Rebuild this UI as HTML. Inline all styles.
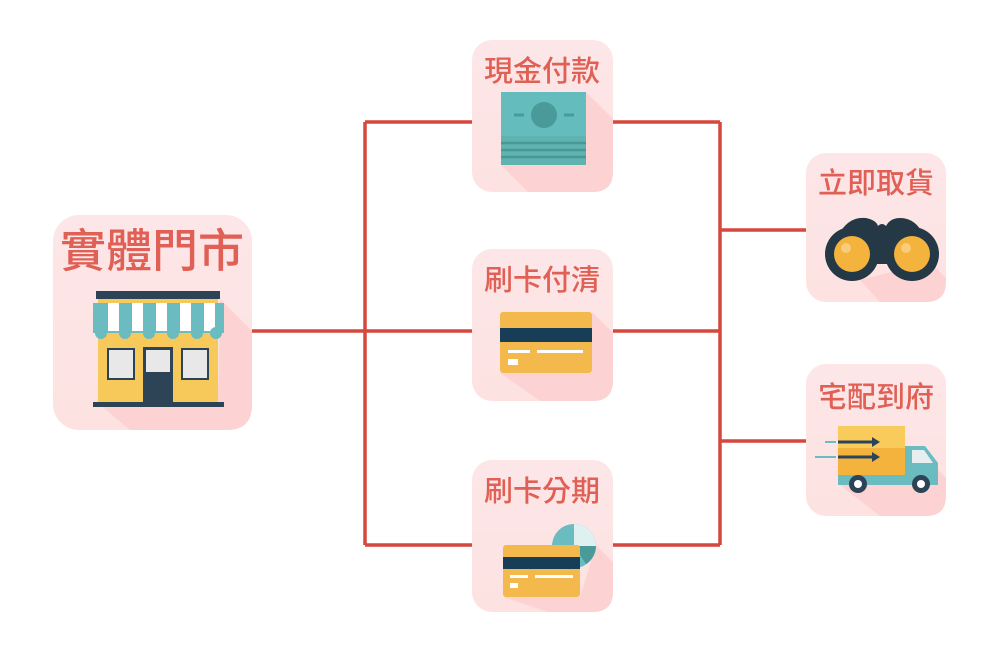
<!DOCTYPE html>
<html><head><meta charset="utf-8"><style>
html,body{margin:0;padding:0;background:#fff}
svg{display:block}
text{font-family:"Liberation Sans","Noto Sans CJK TC",sans-serif;fill:#e06055;font-weight:500}
</style></head><body>
<svg width="1000" height="667" viewBox="0 0 1000 667" xmlns="http://www.w3.org/2000/svg">
<defs>
<linearGradient id="g" x1="0" y1="0" x2="0" y2="1">
<stop offset="0" stop-color="#fde6e8"/><stop offset="1" stop-color="#fde2e1"/>
</linearGradient>
</defs>
<g stroke="#d6473c" stroke-width="3.5" fill="none">
<path d="M252 331H365M365 122V545M365 122H472M365 331H472M365 545H472"/>
<path d="M613 122H720M613 331H720M613 545H720M720 122V545M720 230H806M720 441H806"/>
</g>
<g fill="url(#g)">
<rect x="53" y="215" width="199" height="215" rx="26"/>
<rect x="472" y="40" width="141" height="152" rx="20"/>
<rect x="472" y="249" width="141" height="152" rx="20"/>
<rect x="472" y="460" width="141" height="152" rx="20"/>
<rect x="806" y="153" width="140" height="149" rx="20"/>
<rect x="806" y="364" width="140" height="152" rx="20"/>
</g>
<g fill="#fcd3d2">
<path d="M220 299L252 331V405Q252 430 227 430H130L98 403H218Z"/>
<path d="M586 92L613 119V172Q613 192 593 192H528L501 165H586Z"/>
<path d="M592 312L613 333V381Q613 401 593 401H540L500 373H592Z"/>
<path d="M596 545L613 562V592Q613 612 593 612H548L503 597H580Z"/>
<path d="M930 262L946 278V282Q946 302 926 302H880L860 280Z"/>
<path d="M938 470L946 478V496Q946 516 926 516H880L840 485Z"/>
</g>
<text x="152" y="267" font-size="46" text-anchor="middle">實體門市</text>
<text x="542" y="81" font-size="29" text-anchor="middle">現金付款</text>
<text x="542" y="290" font-size="29" text-anchor="middle">刷卡付清</text>
<text x="542" y="501" font-size="29" text-anchor="middle">刷卡分期</text>
<text x="876" y="193" font-size="29" text-anchor="middle">立即取貨</text>
<text x="876" y="407" font-size="29" text-anchor="middle">宅配到府</text>
<rect x="96" y="291" width="124" height="8" fill="#2d4456"/>
<rect x="98" y="299" width="120" height="5" fill="#f7c85a"/>
<rect x="98" y="330" width="120" height="73" fill="#f7c85a"/>
<rect x="93" y="303" width="131" height="30" fill="#6bbcc0"/>
<g fill="#fff">
<rect x="108" y="303" width="11" height="28"/><rect x="132" y="303" width="11" height="28"/><rect x="156" y="303" width="11" height="28"/><rect x="180" y="303" width="11" height="28"/><rect x="204" y="303" width="11" height="28"/>
</g>
<g fill="#6bbcc0"><circle cx="101" cy="333" r="6"/><circle cx="125" cy="333" r="6"/><circle cx="149" cy="333" r="6"/><circle cx="173" cy="333" r="6"/><circle cx="197" cy="333" r="6"/><circle cx="216" cy="333" r="6"/></g>
<g fill="#e8e8e8" stroke="#2d4456" stroke-width="2">
<rect x="108" y="349" width="26" height="30"/><rect x="182" y="349" width="26" height="30"/>
<rect x="144" y="348" width="28" height="55" fill="#2d4456"/>
</g>
<rect x="146" y="350" width="24" height="22" fill="#e8e8e8"/>
<rect x="93" y="402" width="131" height="5" fill="#2d4456"/>
<rect x="501" y="132" width="85" height="33" fill="#5fb3b1"/>
<g stroke="#4a9896" stroke-width="2.5"><path d="M501 143H586M501 150H586M501 157H586"/></g>
<rect x="501" y="92" width="85" height="44" fill="#65bcbc"/>
<circle cx="544" cy="115" r="13" fill="#4a9a9a"/>
<g stroke="#4a9a9a" stroke-width="3"><path d="M514 115H524M564 115H574"/></g>
<rect x="500" y="312" width="92" height="61" rx="3" fill="#f4b94d"/>
<rect x="500" y="328" width="92" height="14" fill="#173e56"/>
<rect x="508" y="350" width="22" height="3" fill="#fff"/><rect x="537" y="350" width="46" height="3" fill="#fff"/>
<rect x="508" y="359" width="10" height="6" fill="#fff"/>
<circle cx="574" cy="546" r="22" fill="#6bbcc0"/>
<path d="M574 546V524A22 22 0 0 1 596 546Z" fill="#dff0f0"/>
<path d="M574 546H596A22 22 0 0 1 586 564Z" fill="#4a9a9a"/>
<rect x="503" y="545" width="77" height="52" rx="3" fill="#f4b94d"/>
<rect x="503" y="557" width="77" height="12" fill="#173e56"/>
<rect x="510" y="575" width="18" height="3" fill="#fff"/><rect x="535" y="575" width="38" height="3" fill="#fff"/>
<rect x="510" y="583" width="8" height="5" fill="#fff"/>
<path d="M838 236Q848 216 866 218Q876 220 878 226Q882 222 886 226Q890 218 900 218Q916 218 924 236L936 258L826 258Z" fill="#243845"/>
<circle cx="852" cy="254" r="27" fill="#243845"/>
<circle cx="912" cy="254" r="27" fill="#243845"/>
<rect x="860" y="238" width="46" height="26" fill="#243845"/>
<circle cx="852" cy="254" r="18" fill="#f4b33d"/><circle cx="912" cy="254" r="18" fill="#f4b33d"/>
<circle cx="846" cy="248" r="5" fill="#f8cc7a"/><circle cx="906" cy="248" r="5" fill="#f8cc7a"/>
<rect x="838" y="426" width="67" height="50" fill="#f4b33d"/>
<rect x="838" y="426" width="67" height="22" fill="#f8cb5a"/>
<path d="M905 446H925L938 463V485H905Z" fill="#6bbcc0"/>
<path d="M912 450H924L933 463H912Z" fill="#e8eef0"/>
<rect x="838" y="475" width="100" height="10" fill="#6bbcc0"/>
<g stroke="#2d4456" stroke-width="3"><path d="M838 442H872M838 457H872"/></g>
<path d="M872 437L880 442L872 447ZM872 452L880 457L872 462Z" fill="#2d4456"/>
<g stroke="#6bbcc0" stroke-width="2"><path d="M825 442H836M815 457H836"/></g>
<circle cx="858" cy="484" r="9" fill="#2d4456"/><circle cx="858" cy="484" r="4" fill="#fff"/>
<circle cx="921" cy="484" r="9" fill="#2d4456"/><circle cx="921" cy="484" r="4" fill="#fff"/>
</svg>
</body></html>
